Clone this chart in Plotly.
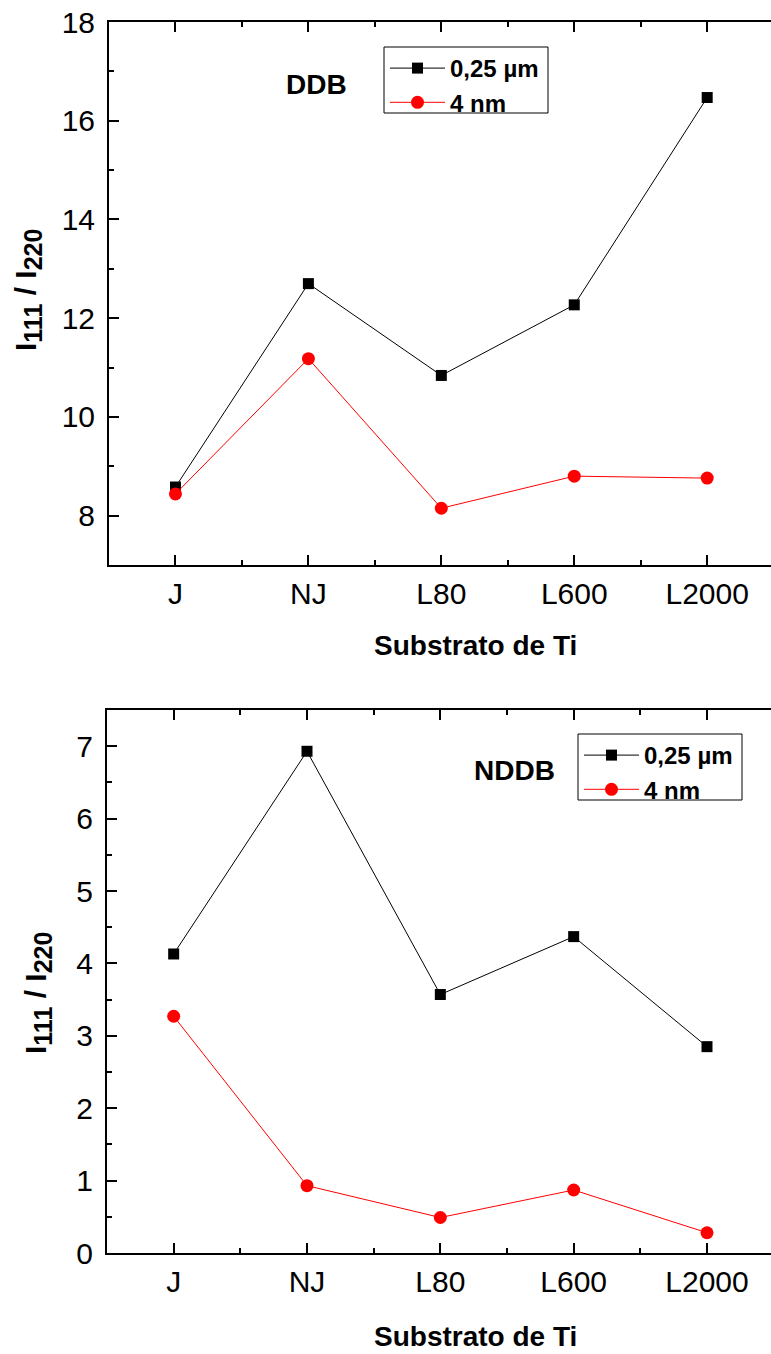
import plotly.graph_objects as go

categories = ["J", "NJ", "L80", "L600", "L2000"]
ddb_025um = [8.58, 12.70, 10.84, 12.27, 16.47]
ddb_4nm = [8.44, 11.18, 8.15, 8.80, 8.76]
nddb_025um = [4.13, 6.93, 3.57, 4.37, 2.85]
nddb_4nm = [3.27, 0.93, 0.49, 0.87, 0.28]
series_names = ["0,25 µm", "4 nm"]
panel_labels = ["DDB", "NDDB"]
x_title = "Substrato de Ti"
y_title = ("I<sub><span style='font-size:25px'>111</span></sub> / "
           "I<sub><span style='font-size:25px'>220</span></sub>")

W, H = 771, 1354
FONT = "Arial, Liberation Sans, sans-serif"
xpos = list(range(len(categories)))

fig = go.Figure()

def add_pair(v1, v2, xa, ya, legend):
    fig.add_trace(go.Scatter(x=xpos, y=v1, mode="lines+markers", name=series_names[0],
                             line=dict(color="black", width=1),
                             marker=dict(symbol="square", size=11, color="black"),
                             xaxis=xa, yaxis=ya, legend=legend))
    fig.add_trace(go.Scatter(x=xpos, y=v2, mode="lines+markers", name=series_names[1],
                             line=dict(color="red", width=1),
                             marker=dict(symbol="circle", size=13, color="red"),
                             xaxis=xa, yaxis=ya, legend=legend))

add_pair(ddb_025um, ddb_4nm, "x", "y", "legend")
add_pair(nddb_025um, nddb_4nm, "x2", "y2", "legend2")

def px_x(px):
    return px / W

def px_y(py):
    return 1 - py / H

xcommon = dict(range=[-0.5, 4.48], tickmode="array", tickvals=xpos, ticktext=categories,
               ticks="inside", ticklen=10, tickwidth=2, tickcolor="black",
               showline=True, linewidth=2, linecolor="black", mirror="allticks",
               showgrid=False, zeroline=False, automargin=False,
               tickfont=dict(family=FONT, size=30, color="black"),
               ticklabelstandoff=1,
               minor=dict(tickvals=[0.5, 1.5, 2.5, 3.5], ticks="inside", ticklen=5,
                          tickwidth=2, tickcolor="black", showgrid=False))
ycommon = dict(ticks="inside", ticklen=10, tickwidth=2, tickcolor="black",
               showline=True, linewidth=2, linecolor="black", mirror=False,
               showgrid=False, zeroline=False, automargin=False,
               tickfont=dict(family=FONT, size=30, color="black"),
               ticklabelstandoff=6)

legfont = dict(family=FONT, size=24, color="black", weight="bold")
fig.update_layout(
    width=W, height=H, margin=dict(l=0, r=0, t=0, b=0, autoexpand=False),
    paper_bgcolor="white", plot_bgcolor="white", showlegend=True,
    xaxis=dict(domain=[px_x(109), 1], anchor="y", **xcommon),
    yaxis=dict(domain=[px_y(565), px_y(22)], anchor="x", range=[7, 18], dtick=2, tick0=0,
               minor=dict(dtick=1, ticks="inside", ticklen=5, tickwidth=2, tickcolor="black", showgrid=False),
               **ycommon),
    xaxis2=dict(domain=[px_x(107), 1], anchor="y2", **xcommon),
    yaxis2=dict(domain=[px_y(1253), px_y(710)], anchor="x2", range=[0, 7.5], dtick=1, tick0=0,
                minor=dict(dtick=0.5, ticks="inside", ticklen=5, tickwidth=2, tickcolor="black", showgrid=False),
                **ycommon),
    legend=dict(x=px_x(385), y=px_y(46), xanchor="left", yanchor="top",
                borderwidth=0, bgcolor="rgba(0,0,0,0)", font=legfont,
                itemwidth=55, tracegroupgap=0),
    legend2=dict(x=px_x(579), y=px_y(733), xanchor="left", yanchor="top",
                 borderwidth=0, bgcolor="rgba(0,0,0,0)", font=legfont,
                 itemwidth=55, tracegroupgap=0),
)

# legend frames
for (x0, y0, x1, y1) in [(384, 47, 548, 113), (578, 734, 742, 800)]:
    fig.add_shape(type="rect", xref="paper", yref="paper",
                  x0=px_x(x0), x1=px_x(x1), y0=px_y(y1), y1=px_y(y0),
                  line=dict(color="black", width=1), fillcolor="rgba(0,0,0,0)", layer="above")

bold = dict(family=FONT, size=28, color="black", weight="bold")
ytfont = dict(family=FONT, size=30, color="black", weight="bold")
ann = [
    dict(text=panel_labels[0], x=px_x(316), y=px_y(84), font=bold),
    dict(text=panel_labels[1], x=px_x(514), y=px_y(770), font=bold),
    dict(text=x_title, x=px_x(475), y=px_y(645), font=bold),
    dict(text=x_title, x=px_x(475), y=px_y(1336), font=bold),
    dict(text=y_title, x=px_x(28), y=px_y(290), textangle=-90, font=ytfont),
    dict(text=y_title, x=px_x(38), y=px_y(993), textangle=-90, font=ytfont),
]
for a in ann:
    fig.add_annotation(xref="paper", yref="paper", showarrow=False,
                       xanchor="center", yanchor="middle", **a)

fig.write_html("out.html")
